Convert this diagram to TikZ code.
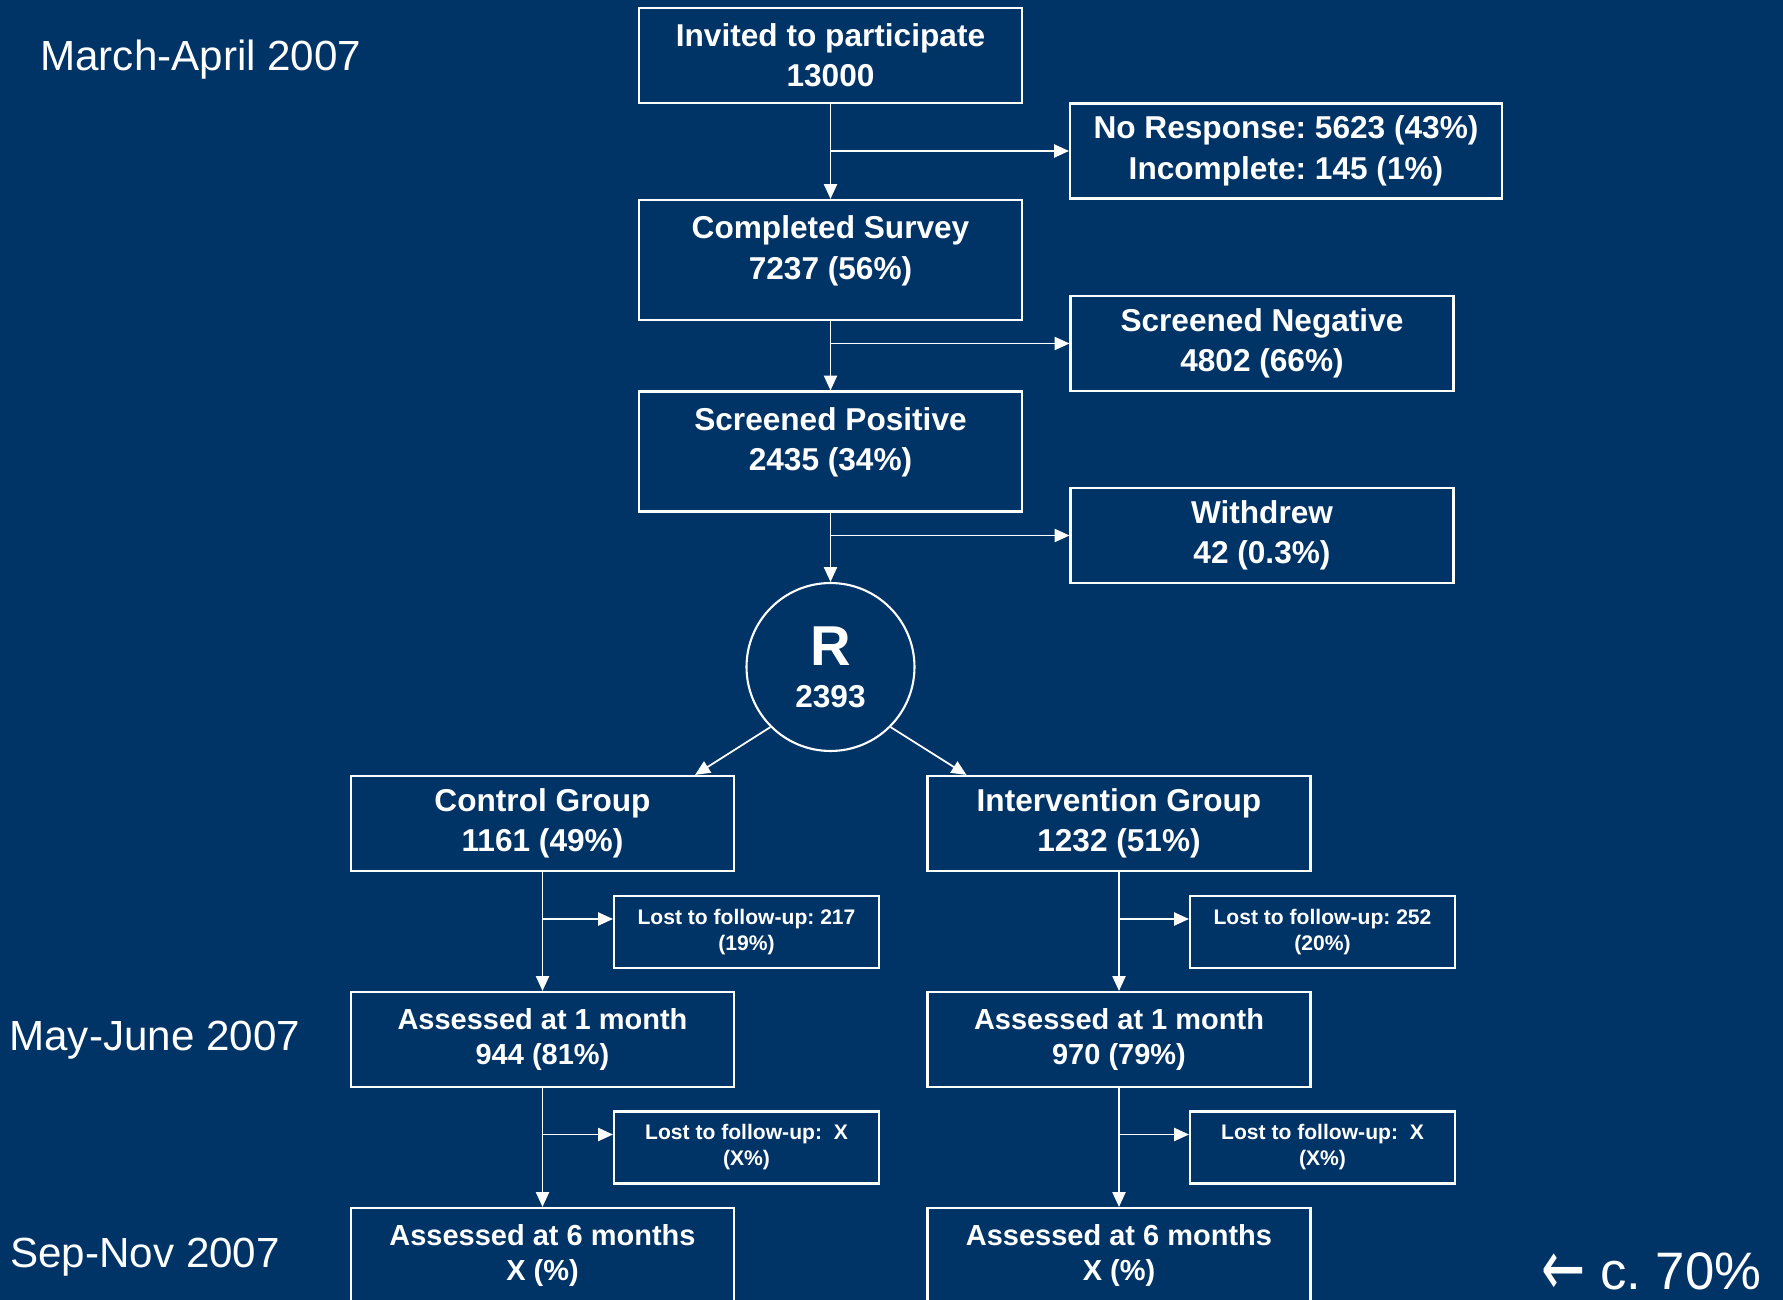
\documentclass[tikz,border=0pt]{standalone}
\usepackage{fontspec}
\setmainfont{Liberation Sans}
\newfontfamily\arrowfont{DejaVu Sans}
\usepackage{graphicx}
\usepackage{tikz}
\usetikzlibrary{arrows.meta}
\frenchspacing
\definecolor{SlideBlue}{HTML}{003366}
\tikzset{
  flowbox/.style={draw=white, line width=1.2pt, text=white, align=center, inner sep=0pt,
    minimum width=7.66cm, minimum height=1.9cm, font=\fontsize{18}{23}\selectfont\bfseries},
  tallbox/.style={flowbox, minimum height=2.4cm},
  lossbox/.style={flowbox, minimum width=5.3cm, minimum height=1.44cm,
    font=\fontsize{12}{14.8}\selectfont\bfseries},
  assessbox/.style={flowbox, font=\fontsize{16.5}{19.5}\selectfont\bfseries},
  randnode/.style={circle, draw=white, line width=1.2pt, text=white, align=center,
    inner sep=0pt, minimum size=3.36cm, font=\fontsize{18}{22}\selectfont\bfseries},
  datelabel/.style={text=white, anchor=west, inner sep=0pt, font=\fontsize{24}{28}\selectfont},
  flowarrow/.style={draw=white, line width=1pt, -{Triangle[length=8.5pt,width=7.5pt]}},
}

\begin{document}
\begin{tikzpicture}[x=0.02cm, y=-0.02cm]
  \fill[SlideBlue] (0,0) rectangle (1783,1300);
  \useasboundingbox (0,0) rectangle (1783,1300);
  % time line
  \node[datelabel] (dMar) at (40,59.5) {March-April 2007};
  \node[datelabel] (dMay) at (9,1040.5) {May-June 2007};
  \node[datelabel] (dSep) at (10,1257.5) {Sep-Nov 2007};
  \node[datelabel, anchor=base west, font=\fontsize{30}{34}\selectfont] (share) at (1541,1289)
    {{\arrowfont\raisebox{-0.13em}{\scalebox{1}[1.5]{←}}} c. 70\%};
  % recruitment
  \node[flowbox] (invited) at (830.5,55.5) {Invited to participate\\13000};
  \node[flowbox, minimum width=8.64cm] (noresp) at (1286,151) {No Response: 5623 (43\%)\\Incomplete: 145 (1\%)};
  \node[tallbox] (completed) at (830.5,260) {Completed Survey\\7237 (56\%)\\[-9pt]\mbox{}};
  \node[flowbox] (negative) at (1262,343.5) {Screened Negative\\4802 (66\%)};
  \node[tallbox] (positive) at (830.5,451.5) {Screened Positive\\2435 (34\%)\\[-9pt]\mbox{}};
  \node[flowbox] (withdrew) at (1262,535.5) {Withdrew\\42 (0.3\%)};
  \node[randnode] (rand) at (830.5,667) {{\fontsize{32}{32}\selectfont R}\\[2pt]2393};
  \node[flowbox] (control) at (542.5,823.5) {Control Group\\1161 (49\%)};
  \node[flowbox] (interv) at (1119,823.5) {Intervention Group\\1232 (51\%)};
  \coordinate (jNo) at (invited.south |- noresp.west);
  \coordinate (jNeg) at (completed.south |- negative.west);
  \coordinate (jWd) at (positive.south |- withdrew.west);
  \draw[flowarrow] (invited) -- (completed);
  \draw[flowarrow] (completed) -- (positive);
  \draw[flowarrow] (positive) -- (rand);
  \draw[flowarrow] (jNo) -- (noresp.west);
  \draw[flowarrow] (jNeg) -- (negative.west);
  \draw[flowarrow] (jWd) -- (withdrew.west);
  \draw[flowarrow] (rand.south west) -- ([xshift=-0.8cm]control.north east);
  \draw[flowarrow] (rand.south east) -- ([xshift=0.8cm]interv.north west);
  % follow-up arms
  \foreach \grp/\xg/\xl/\lost/\done in {
      control/542.5/746.5/{Lost to follow-up: 217\\(19\%)}/{944 (81\%)},
      interv/1119/1322.5/{Lost to follow-up: 252\\(20\%)}/{970 (79\%)}} {
    \node[lossbox] (\grp-lostA) at (\xl,932) {\lost};
    \node[assessbox] (\grp-month1) at (\xg,1039.5) {Assessed at 1 month\\\done};
    \node[lossbox] (\grp-lostB) at (\xl,1147.5) {Lost to follow-up:~ X\\(X\%)};
    \node[assessbox] (\grp-month6) at (\xg,1255.5) {Assessed at 6 months\\X (\%)};
    \coordinate (\grp-jA) at ([yshift=0.26cm]\grp-lostA.west);
    \coordinate (\grp-jB) at ([yshift=0.26cm]\grp-lostB.west);
    \draw[flowarrow] (\grp) -- (\grp-month1);
    \draw[flowarrow] (\grp-month1) -- (\grp-month6);
    \draw[flowarrow] (\grp.south |- \grp-jA) -- (\grp-jA);
    \draw[flowarrow] (\grp-month1.south |- \grp-jB) -- (\grp-jB);
  }
\end{tikzpicture}
\end{document}
